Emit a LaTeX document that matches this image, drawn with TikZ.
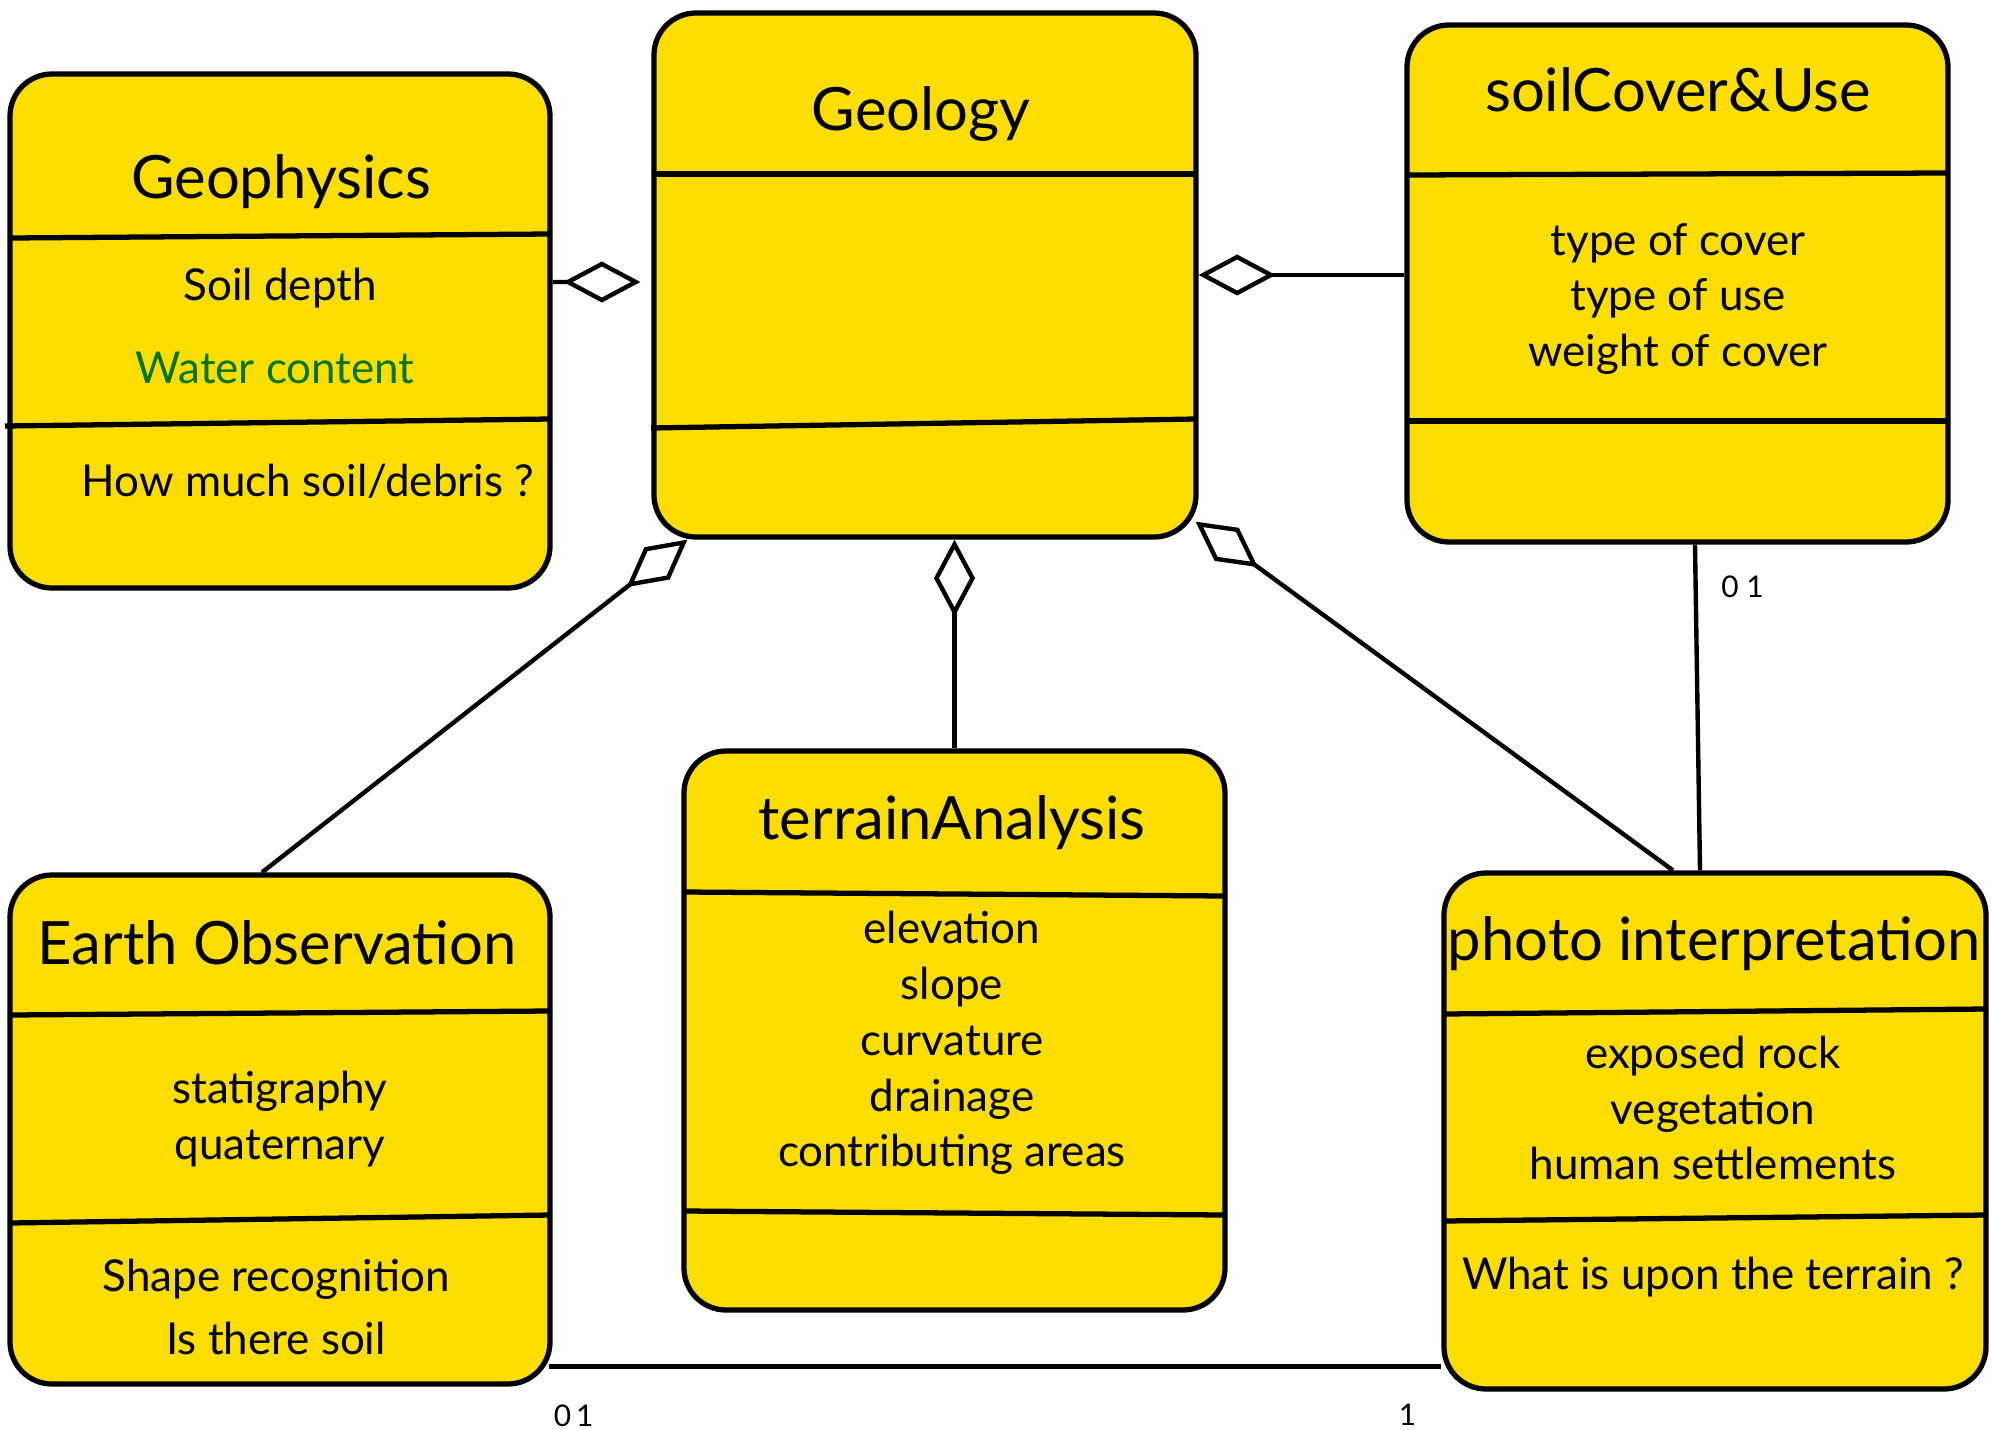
\documentclass[tikz,border=0pt]{standalone}
\usepackage{fontspec}
\setmainfont{Lato}
\usetikzlibrary{arrows.meta}
\definecolor{classyellow}{RGB}{251,222,0}
\definecolor{attrgreen}{RGB}{0,118,0}

\tikzset{
  classbox/.style={draw, line width=1.5pt, rounded corners=0.42cm, fill=classyellow, inner sep=0pt},
  divider/.style={line width=1.5pt},
  classname/.style={font=\fontsize{17}{20}\selectfont},
  attr/.style={font=\fontsize{12.5}{15.9}\selectfont, align=center},
  link/.style={line width=1.25pt},
  aggr/.style={link, {Diamond[open, length=7.7mm, width=4.1mm]}-},
  mult/.style={font=\fontsize{8.5}{10}\selectfont, inner sep=1pt},
}

\begin{document}
\begin{tikzpicture}[x=0.1mm, y=-0.1mm]
  \useasboundingbox (0,0) rectangle (1995,1430);

  % Class boxes
  \node[classbox, minimum width=5.4cm, minimum height=5.14cm] (geophys) at (280,331) {};
  \node[classbox, minimum width=5.42cm, minimum height=5.24cm] (geology) at (925,275) {};
  \node[classbox, minimum width=5.41cm, minimum height=5.17cm] (soilcov) at (1677.5,283.5) {};
  \node[classbox, minimum width=5.4cm, minimum height=5.09cm] (earthobs) at (280,1129.5) {};
  \node[classbox, minimum width=5.41cm, minimum height=5.59cm] (terrain) at (954.5,1030.5) {};
  \node[classbox, minimum width=5.42cm, minimum height=5.16cm] (photo) at (1715,1131) {};

  % Compartment lines
  \draw[divider] (10,238) -- (550,234);
  \draw[divider] (5,426) -- (550,419);
  \draw[divider] (654,174) -- (1196,174);
  \draw[divider] (651,428) -- (1196,419);
  \draw[divider] (1407,175) -- (1948,173);
  \draw[divider] (1407,421) -- (1948,421);
  \draw[divider] (10,1015) -- (550,1011);
  \draw[divider] (10,1223) -- (550,1215);
  \draw[divider] (684,892) -- (1225,896);
  \draw[divider] (684,1211) -- (1225,1215);
  \draw[divider] (1444,1014) -- (1986,1009);
  \draw[divider] (1444,1221) -- (1986,1215);

  % Geophysics
  \node[classname] (geophys-name) at (281,182) {Geophysics};
  \node[attr] (geophys-depth) at (280,288) {Soil depth};
  \node[attr, text=attrgreen] (geophys-water) at (275,368) {Water content};
  \node[attr] (geophys-op) at (308,481) {How much soil/debris ?};

  % Geology
  \node[classname] (geology-name) at (921,114) {Geology};

  % soilCover&Use
  \node[classname] (soilcov-name) at (1678,90) {soilCover\&Use};
  \node[attr] (soilcov-attr) at (1678,299) {type of cover\\type of use\\weight of cover};

  % Earth Observation
  \node[classname] (earthobs-name) at (277,943) {Earth Observation};
  \node[attr] (earthobs-attr) at (280,1119) {statigraphy\\quaternary};
  \node[attr] (earthobs-op) at (276,1307) {Shape recognition\\[0.07cm]Is there soil};

  % terrainAnalysis
  \node[classname] (terrain-name) at (952,823) {terrainAnalysis};
  \node[attr] (terrain-attr) at (952,1043) {elevation\\slope\\curvature\\drainage\\contributing areas};

  % photo interpretation
  \node[classname] (photo-name) at (1714,944) {photo interpretation};
  \node[attr] (photo-attr) at (1713,1108) {exposed rock\\vegetation\\human settlements};
  \node[attr] (photo-op) at (1713,1277) {What is upon the terrain ?};

  % Aggregations into Geology
  \draw[aggr] ([xshift=-1.1mm, yshift=-0.7mm]geology.west) -- ([yshift=4.9mm]geophys.east);
  \draw[aggr] (geology.east) -- (soilcov.west |- geology.east);
  \draw[aggr] ([xshift=3.6mm]geology.south west) -- ([xshift=-1.8mm]earthobs.north);
  \draw[aggr] (terrain.north |- geology.south) -- (terrain.north);
  \draw[aggr] ([xshift=-0.3mm, yshift=1.8mm]geology.south east) -- ([xshift=-4.2mm]photo.north);

  % Associations
  \draw[link] ([xshift=1.75mm]soilcov.south) -- ([xshift=-1.5mm]photo.north)
    node[mult, pos=0.13, right=2mm] (soilcov-mult) {0 1};
  \draw[link] ([xshift=-0.4mm, yshift=2mm]earthobs.south east) coordinate (eo-end)
    -- (photo.west |- eo-end)
    node[mult, pos=0.028, below=3.2mm] (earthobs-mult) {0\,1}
    node[mult, pos=0.962, below=3.2mm] (photo-mult) {1};
\end{tikzpicture}
\end{document}
